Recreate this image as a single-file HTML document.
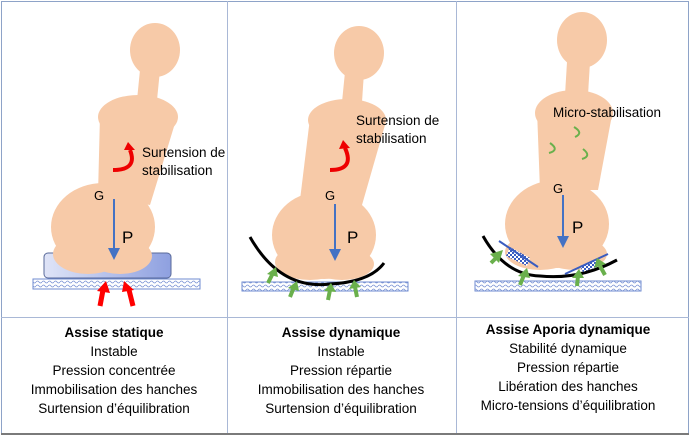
<!DOCTYPE html>
<html><head><meta charset="utf-8"><style>
body{margin:0;background:#fff;}
svg{display:block;font-family:"Liberation Sans","DejaVu Sans",sans-serif;}
</style></head><body>
<svg width="692" height="436" viewBox="0 0 692 436" xmlns="http://www.w3.org/2000/svg">
<defs>
<linearGradient id="cg" x1="0" x2="1" y1="0" y2="0"><stop offset="0" stop-color="#dfe4f7"/><stop offset="1" stop-color="#8ea0e0"/></linearGradient>
<pattern id="wv" width="6" height="4" patternUnits="userSpaceOnUse"><rect width="6" height="4" fill="#fff"/><path d="M0 2 Q1.5 0 3 2 T6 2" stroke="#7b93d4" stroke-width="0.8" fill="none"/></pattern>
<pattern id="ck" width="4" height="4" patternUnits="userSpaceOnUse"><rect width="4" height="4" fill="#fff"/><rect width="2" height="2" fill="#3a5cc0"/><rect x="2" y="2" width="2" height="2" fill="#3a5cc0"/></pattern>
<marker id="ab" markerWidth="6" markerHeight="6" refX="3" refY="3" orient="auto"><path d="M0 0 L6 3 L0 6z" fill="#4472c4"/></marker>
</defs>
<!-- table -->
<rect x="1.5" y="1.5" width="687" height="432" fill="none" stroke="#8ea3c8" stroke-width="1"/>
<line x1="227.5" y1="1" x2="227.5" y2="434" stroke="#a9b8d6"/>
<line x1="456.5" y1="1" x2="456.5" y2="434" stroke="#a9b8d6"/>
<line x1="1" y1="317.5" x2="689" y2="317.5" stroke="#a9b8d6"/>
<line x1="1" y1="434" x2="689" y2="434" stroke="#7a7a7a" stroke-width="2"/>

<!-- Panel 1 -->
<rect x="44" y="253" width="127" height="25" rx="4" fill="url(#cg)" stroke="#5a6a9a" stroke-width="1"/>
<rect x="33" y="279" width="167" height="10" fill="url(#wv)" stroke="#6f8bd0" stroke-width="1"/>
<g fill="#f7caa8">
<ellipse cx="155" cy="50" rx="25" ry="27"/>
<polygon points="140,70 160,70 157,100 137,100"/>
<ellipse cx="138" cy="117" rx="40" ry="22"/>
<polygon points="100,115 176,120 150,205 98,195"/>
<ellipse cx="103" cy="227" rx="52" ry="44"/>
<ellipse cx="88" cy="254" rx="35" ry="20"/>
<ellipse cx="120" cy="256" rx="32" ry="18"/>
</g>
<line x1="114" y1="199" x2="114" y2="254" stroke="#4472c4" stroke-width="2" marker-end="url(#ab)"/>
<text x="94" y="200" font-size="13">G</text>
<text x="122" y="243" font-size="17">P</text>
<path d="M113 170 Q138 170 130 150" stroke="#e00" stroke-width="4" fill="none"/>
<path d="M124 150 L128 142 L135 150z" fill="#e00"/>
<text x="142" y="157" font-size="13.5">Surtension de</text>
<text x="142" y="175" font-size="13.5">stabilisation</text>
<path d="M100 306 L103 290" stroke="#f00" stroke-width="5"/><path d="M97 291 L106 281 L110 293z" fill="#f00"/>
<path d="M133 306 L129 290" stroke="#f00" stroke-width="5"/><path d="M122 292 L124 281 L134 290z" fill="#f00"/>
<text x="114" y="337" font-size="13.5" font-weight="bold" text-anchor="middle">Assise statique</text>
<text x="114" y="356" font-size="13.5" text-anchor="middle">Instable</text>
<text x="114" y="375" font-size="13.5" text-anchor="middle">Pression concentrée</text>
<text x="114" y="394" font-size="13.5" text-anchor="middle">Immobilisation des hanches</text>
<text x="114" y="413" font-size="13.5" text-anchor="middle">Surtension d’équilibration</text>

<!-- Panel 2 -->
<rect x="242" y="282" width="166" height="9" fill="url(#wv)" stroke="#6f8bd0" stroke-width="1"/>
<g fill="#f7caa8">
<ellipse cx="359" cy="53" rx="25" ry="27"/>
<polygon points="345,72 364,72 362,102 342,102"/>
<ellipse cx="347" cy="120" rx="39" ry="21"/>
<polygon points="310,118 385,125 362,205 300,200"/>
<ellipse cx="324" cy="235" rx="52" ry="44"/>
<ellipse cx="310" cy="262" rx="35" ry="18"/>
<ellipse cx="342" cy="264" rx="32" ry="16"/>
</g>
<path d="M250 237 Q280 290 330 284 Q370 282 384 263" stroke="#000" stroke-width="3" fill="none"/>
<line x1="335" y1="204" x2="335" y2="255" stroke="#4472c4" stroke-width="2" marker-end="url(#ab)"/>
<text x="325" y="200" font-size="13">G</text>
<text x="347" y="243" font-size="17">P</text>
<path d="M330 170 Q355 170 345 148" stroke="#e00" stroke-width="4" fill="none"/>
<path d="M339 149 L343 140 L350 148z" fill="#e00"/>
<text x="356" y="125" font-size="13.5">Surtension de</text>
<text x="356" y="143" font-size="13.5">stabilisation</text>
<g stroke="#6ab04c" stroke-width="4" fill="#6ab04c">
<line x1="268" y1="283" x2="273" y2="273"/><path d="M267 274 L276 267 L278 277z" stroke="none"/>
<line x1="290" y1="297" x2="294" y2="287"/><path d="M288 288 L297 281 L299 291z" stroke="none"/>
<line x1="328" y1="300" x2="330" y2="290"/><path d="M324 291 L331 283 L336 292z" stroke="none"/>
<line x1="357" y1="297" x2="355" y2="287"/><path d="M349 289 L354 280 L361 287z" stroke="none"/>
</g>
<text x="341" y="337" font-size="13.5" font-weight="bold" text-anchor="middle">Assise dynamique</text>
<text x="341" y="356" font-size="13.5" text-anchor="middle">Instable</text>
<text x="341" y="375" font-size="13.5" text-anchor="middle">Pression répartie</text>
<text x="341" y="394" font-size="13.5" text-anchor="middle">Immobilisation des hanches</text>
<text x="341" y="413" font-size="13.5" text-anchor="middle">Surtension d’équilibration</text>

<!-- Panel 3 -->
<rect x="475" y="281" width="166" height="10" fill="url(#wv)" stroke="#6f8bd0" stroke-width="1"/>
<g fill="#f7caa8">
<ellipse cx="582" cy="40" rx="25" ry="28"/>
<polygon points="567,62 590,62 588,95 565,95"/>
<ellipse cx="574" cy="113" rx="39" ry="23"/>
<polygon points="537,110 612,115 598,190 540,190"/>
<ellipse cx="557" cy="224" rx="52" ry="44"/>
<ellipse cx="540" cy="252" rx="35" ry="18"/>
<ellipse cx="575" cy="254" rx="32" ry="16"/>
</g>
<path d="M483 236 Q505 275 540 276 Q580 280 617 260" stroke="#000" stroke-width="3" fill="none"/>
<polygon points="510,247 530,258 527,266 506,256" fill="url(#ck)"/>
<polygon points="580,266 598,258 601,265 583,272" fill="url(#ck)"/>
<line x1="499" y1="241" x2="538" y2="267" stroke="#3a5cc0" stroke-width="2"/>
<line x1="565" y1="274" x2="608" y2="254" stroke="#3a5cc0" stroke-width="2"/>
<line x1="563" y1="195" x2="563" y2="242" stroke="#4472c4" stroke-width="2" marker-end="url(#ab)"/>
<text x="553" y="193" font-size="13">G</text>
<text x="572" y="233" font-size="17">P</text>
<text x="553" y="117" font-size="13.5">Micro-stabilisation</text>
<g stroke="#6ab04c" stroke-width="2" fill="none">
<path d="M574 127 Q584 133 575 137"/><path d="M550 143 Q560 150 549 153"/><path d="M583 149 Q592 156 582 159"/>
</g>
<g stroke="#6ab04c" stroke-width="4" fill="#6ab04c">
<line x1="491" y1="263" x2="497" y2="257"/><path d="M490 254 L503 250 L499 263z" stroke="none"/>
<line x1="520" y1="285" x2="524" y2="275"/><path d="M518 276 L527 268 L530 278z" stroke="none"/>
<line x1="577" y1="286" x2="578" y2="276"/><path d="M572 278 L579 269 L584 278z" stroke="none"/>
<line x1="605" y1="275" x2="600" y2="266"/><path d="M594 268 L597 258 L606 264z" stroke="none"/>
</g>
<text x="568" y="334" font-size="13.5" font-weight="bold" text-anchor="middle">Assise Aporia dynamique</text>
<text x="568" y="353" font-size="13.5" text-anchor="middle">Stabilité dynamique</text>
<text x="568" y="372" font-size="13.5" text-anchor="middle">Pression répartie</text>
<text x="568" y="391" font-size="13.5" text-anchor="middle">Libération des hanches</text>
<text x="568" y="410" font-size="13.5" text-anchor="middle">Micro-tensions d’équilibration</text>
</svg>
</body></html>
